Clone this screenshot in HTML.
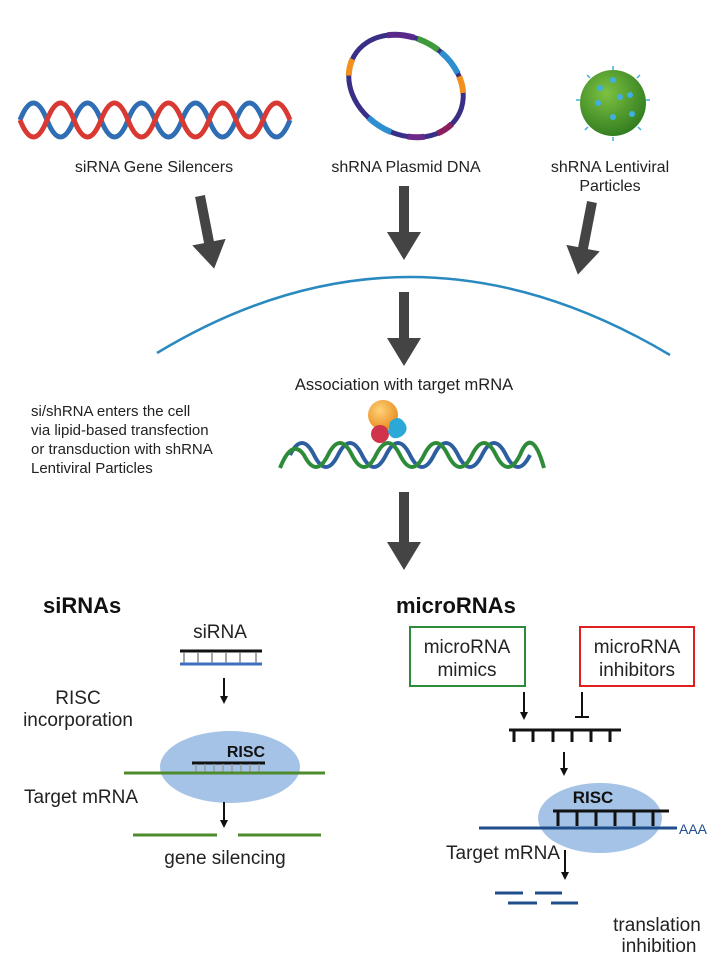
<!DOCTYPE html>
<html><head><meta charset="utf-8"><style>
body{margin:0;background:#fff}
svg{display:block}
text{font-family:"Liberation Sans",Arial,sans-serif}
</style></head><body>
<svg width="725" height="971" viewBox="0 0 725 971" xmlns="http://www.w3.org/2000/svg">
<defs>
<marker id="ah" markerWidth="8" markerHeight="8" refX="4" refY="4" orient="auto" markerUnits="userSpaceOnUse"><path d="M0,0 L8,4 L0,8 z" fill="#111"/></marker>
<radialGradient id="vg" cx="40%" cy="35%" r="70%"><stop offset="0" stop-color="#7dc242"/><stop offset="1" stop-color="#2f7a1f"/></radialGradient>
<radialGradient id="og" cx="40%" cy="35%" r="70%"><stop offset="0" stop-color="#ffd27a"/><stop offset="1" stop-color="#e88a1a"/></radialGradient>
</defs>

<!-- siRNA helix -->
<g fill="none" stroke-width="5">
<path d="M20,120 q13.5,-34 27,0 t27,0 t27,0 t27,0 t27,0 t27,0 t27,0 t27,0 t27,0 t27,0" stroke="#2f6db5"/>
<path d="M20,120 q13.5,34 27,0 t27,0 t27,0 t27,0 t27,0 t27,0 t27,0 t27,0 t27,0 t27,0" stroke="#d83a33"/>
</g>
<!-- plasmid -->
<g transform="rotate(30 406 86)" fill="none" stroke-width="6">
<ellipse cx="406" cy="86" rx="60" ry="48" stroke="#3a2f86" stroke-width="5"/>
<ellipse cx="406" cy="86" rx="60" ry="48" pathLength="100" stroke="#5a2a8a" stroke-dasharray="8 92" stroke-dashoffset="-62"/>
<ellipse cx="406" cy="86" rx="60" ry="48" pathLength="100" stroke="#3f9a3a" stroke-dasharray="7 93" stroke-dashoffset="-71"/>
<ellipse cx="406" cy="86" rx="60" ry="48" pathLength="100" stroke="#2e8fd0" stroke-dasharray="8 92" stroke-dashoffset="-79"/>
<ellipse cx="406" cy="86" rx="60" ry="48" pathLength="100" stroke="#f0901e" stroke-dasharray="5 95" stroke-dashoffset="-88"/>
<ellipse cx="406" cy="86" rx="60" ry="48" pathLength="100" stroke="#8a1f5e" stroke-dasharray="5 95" stroke-dashoffset="-3"/>
<ellipse cx="406" cy="86" rx="60" ry="48" pathLength="100" stroke="#6a2a8a" stroke-dasharray="5 95" stroke-dashoffset="-12"/>
<ellipse cx="406" cy="86" rx="60" ry="48" pathLength="100" stroke="#2e8fd0" stroke-dasharray="8 92" stroke-dashoffset="-22"/>
<ellipse cx="406" cy="86" rx="60" ry="48" pathLength="100" stroke="#f0901e" stroke-dasharray="5 95" stroke-dashoffset="-44"/>
</g>
<!-- virus -->
<circle cx="613" cy="103" r="33" fill="url(#vg)"/>
<g fill="#3fb0e0"><circle cx="613" cy="80" r="3"/><circle cx="600" cy="88" r="3"/><circle cx="620" cy="97" r="3"/><circle cx="630" cy="95" r="3"/><circle cx="613" cy="117" r="3"/><circle cx="632" cy="114" r="3"/><circle cx="598" cy="103" r="3"/></g>
<g stroke="#3fb0e0" stroke-width="1.5"><path d="M613,70v-4"/><path d="M590,78l-3,-3"/><path d="M637,78l3,-3"/><path d="M580,100h-4"/><path d="M646,100h4"/><path d="M588,127l-3,3"/><path d="M638,127l3,3"/><path d="M613,137v4"/></g>

<g font-size="16" fill="#222" text-anchor="middle">
<text x="154" y="172">siRNA Gene Silencers</text>
<text x="406" y="172">shRNA Plasmid DNA</text>
<text x="610" y="172">shRNA Lentiviral</text>
<text x="610" y="191">Particles</text>
</g>

<!-- big arrows -->
<g fill="#444">
<g transform="translate(200,196) rotate(-11)"><path d="M-5,0 h10 v47 h12 l-17,27 l-17,-27 h12 z"/></g>
<path d="M399,186 h10 v46 h12 l-17,28 l-17,-28 h12 z"/>
<g transform="translate(592,202) rotate(11)"><path d="M-5,0 h10 v47 h12 l-17,27 l-17,-27 h12 z"/></g>
<path d="M399,292 h10 v46 h12 l-17,28 l-17,-28 h12 z"/>
<path d="M399,492 h10 v50 h12 l-17,28 l-17,-28 h12 z"/>
</g>
<!-- membrane -->
<path d="M157,353 Q410,200 670,355" fill="none" stroke="#2a8ac0" stroke-width="2.5"/>

<text x="404" y="390" font-size="16.5" fill="#222" text-anchor="middle">Association with target mRNA</text>
<g font-size="15" fill="#222">
<text x="31" y="416">si/shRNA enters the cell</text>
<text x="31" y="435">via lipid-based transfection</text>
<text x="31" y="454">or transduction with shRNA</text>
<text x="31" y="473">Lentiviral Particles</text>
</g>
<!-- mRNA helix -->
<g fill="none" stroke-width="4">
<path d="M290,455 q12,-24 24,0 t24,0 t24,0 t24,0 t24,0 t24,0 t24,0 t24,0 t24,0 t24,0" stroke="#2d5fa0"/>
<path d="M280,468 q12,-30 24,-13 q12,24 24,0 t24,0 t24,0 t24,0 t24,0 t24,0 t24,0 t24,0 t24,0 q12,-30 24,13" stroke="#2e8b3a"/>
</g>
<circle cx="383" cy="415" r="15" fill="url(#og)"/>
<circle cx="380" cy="434" r="9" fill="#d0344a"/>
<path d="M390,422 q8,-8 14,0 q6,8 -2,14 q-10,6 -14,-4 z" fill="#2aa8d8"/>

<!-- siRNAs -->
<text x="43" y="613" font-size="22" font-weight="bold" fill="#111">siRNAs</text>
<text x="220" y="638" font-size="19" fill="#222" text-anchor="middle">siRNA</text>
<path d="M180,651 h82" stroke="#111" stroke-width="3"/>
<path d="M180,664 h82" stroke="#3d6fc0" stroke-width="3"/>
<g stroke="#888" stroke-width="1.5"><path d="M184,652v11M198,652v11M212,652v11M226,652v11M240,652v11M256,652v11"/></g>
<path d="M224,678 v22" stroke="#111" stroke-width="2" marker-end="url(#ah)"/>
<text x="78" y="704" font-size="19" fill="#222" text-anchor="middle">RISC</text>
<text x="78" y="726" font-size="19" fill="#222" text-anchor="middle">incorporation</text>
<ellipse cx="230" cy="767" rx="70" ry="36" fill="#a4c3e6"/>
<text x="246" y="757" font-size="16" font-weight="bold" fill="#111" text-anchor="middle">RISC</text>
<path d="M192,763 h73" stroke="#111" stroke-width="3"/>
<g stroke="#999" stroke-width="1.5"><path d="M196,764v8M205,764v8M214,764v8M223,764v8M232,764v8M241,764v8M250,764v8M259,764v8"/></g>
<path d="M124,773 h201" stroke="#4e8a2e" stroke-width="3"/>
<text x="24" y="803" font-size="19" fill="#222">Target mRNA</text>
<path d="M224,802 v22" stroke="#111" stroke-width="2" marker-end="url(#ah)"/>
<path d="M133,835 h84 M238,835 h83" stroke="#4e8a2e" stroke-width="3"/>
<text x="225" y="864" font-size="19" fill="#222" text-anchor="middle">gene silencing</text>

<!-- microRNAs -->
<text x="396" y="613" font-size="22" font-weight="bold" fill="#111">microRNAs</text>
<rect x="410" y="627" width="115" height="59" fill="none" stroke="#2e8b3a" stroke-width="2"/>
<rect x="580" y="627" width="114" height="59" fill="none" stroke="#e02020" stroke-width="2"/>
<g font-size="19" fill="#222" text-anchor="middle">
<text x="467" y="653">microRNA</text><text x="467" y="676">mimics</text>
<text x="637" y="653">microRNA</text><text x="637" y="676">inhibitors</text>
</g>
<path d="M524,692 v24" stroke="#111" stroke-width="2" marker-end="url(#ah)"/>
<path d="M582,692 v25 M575,717 h14" stroke="#111" stroke-width="2"/>
<path d="M509,730 h112" stroke="#111" stroke-width="3"/>
<g stroke="#111" stroke-width="3"><path d="M514,730v12M533,730v12M553,730v12M572,730v12M591,730v12M610,730v12"/></g>
<path d="M564,752 v20" stroke="#111" stroke-width="2" marker-end="url(#ah)"/>
<ellipse cx="600" cy="818" rx="62" ry="35" fill="#a4c3e6"/>
<text x="593" y="803" font-size="17" font-weight="bold" fill="#111" text-anchor="middle">RISC</text>
<path d="M553,811 h116" stroke="#111" stroke-width="3"/>
<g stroke="#111" stroke-width="3"><path d="M558,811v15M577,811v15M596,811v15M615,811v15M634,811v15M653,811v15"/></g>
<path d="M479,828 h198" stroke="#1f4e8a" stroke-width="3"/>
<text x="679" y="834" font-size="14" fill="#1f4e8a">AAA</text>
<text x="446" y="859" font-size="19" fill="#222">Target mRNA</text>
<path d="M565,850 v26" stroke="#111" stroke-width="2" marker-end="url(#ah)"/>
<g stroke="#1f4e8a" stroke-width="3"><path d="M495,893h28M535,893h27M508,903h29M551,903h27"/></g>
<g font-size="19" fill="#222" text-anchor="middle"><text x="657" y="931">translation</text><text x="659" y="952">inhibition</text></g>
</svg>
</body></html>
